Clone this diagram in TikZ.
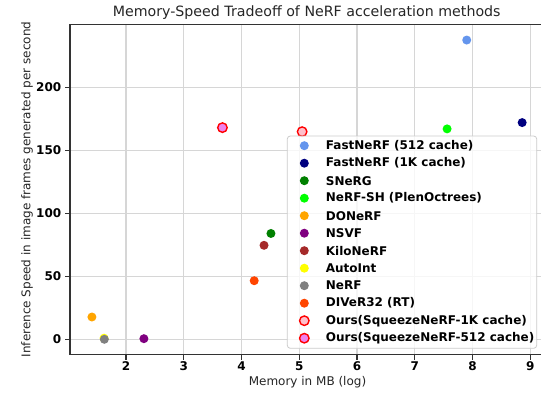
\documentclass[tikz,border=0pt]{standalone}
\usepackage{fontspec}
\setmainfont{DejaVu Sans}
\definecolor{cornflower}{HTML}{6495ED}
\definecolor{navyc}{HTML}{000080}
\definecolor{greenc}{HTML}{008000}
\definecolor{limec}{HTML}{00FF00}
\definecolor{orangec}{HTML}{FFA500}
\definecolor{purplec}{HTML}{800080}
\definecolor{brownc}{HTML}{A52A2A}
\definecolor{yellowc}{HTML}{FFFF00}
\definecolor{grayc}{HTML}{808080}
\definecolor{orangeredc}{HTML}{FF4500}
\definecolor{pinkc}{HTML}{FFC0CB}
\definecolor{violetc}{HTML}{EE82EE}
\definecolor{redc}{HTML}{FF0000}
\definecolor{gridc}{HTML}{D6D6D6}
\definecolor{framec}{HTML}{333333}
\definecolor{legedge}{HTML}{CCCCCC}
\definecolor{textc}{HTML}{262626}
\begin{document}
\begin{tikzpicture}[x=1pt,y=-1pt,
  mk/.style={circle,inner sep=0pt,minimum size=9pt},
  ours/.style={circle,inner sep=0pt,minimum size=9.5pt,draw=redc,line width=1.4pt},
  gridline/.style={draw=gridc,line width=1.1pt},
  tick/.style={draw=framec,line width=1.1pt},
  ticklab/.style={font=\fontsize{12}{14}\selectfont\bfseries,text=black,inner sep=0pt},
  leglab/.style={font=\fontsize{12}{14}\selectfont\bfseries,text=black,inner sep=0pt,anchor=west},
  axlab/.style={font=\fontsize{12}{14}\selectfont,text=textc,inner sep=0pt}]
\useasboundingbox (0,0) rectangle (541,394);
\fill[white] (0,0) rectangle (541,394);
\clip (0,0) rectangle (541,394);

% data coordinates: x = memory, y = frames per second
\begin{scope}[shift={(10.5,339.3)},x=57.75pt,y=1.26pt]
  % grid
  \foreach \gx in {2,...,9} \draw[gridline] (\gx,-12.2) -- (\gx,249.7);
  \foreach \gy in {0,50,...,200} \draw[gridline] (1.03,\gy) -- (9.3,\gy);
  % frame
  \draw[framec,line width=1.2pt] (9.3,249.7) -- (1.03,249.7) -- (1.03,-12.2) -- (9.3,-12.2);
  % ticks and tick labels
  \foreach \gx in {2,...,9} {
    \draw[tick] (\gx,-12.2) -- ++(0,-4.2);
    \node[ticklab,anchor=north] (xt\gx) at ([yshift=-7pt]\gx,-12.2) {\gx};
  }
  \foreach \gy in {0,50,...,200} {
    \draw[tick] (1.03,\gy) -- ++(-0.085,0);
    \node[ticklab,anchor=east] (yt\gy) at ([xshift=-8.5pt]1.03,\gy) {\gy};
  }
  % points
  \node[mk,fill=cornflower] (fastnerfA) at (7.90,237.5) {};
  \node[mk,fill=navyc] (fastnerfB) at (8.86,172) {};
  \node[mk,fill=greenc] (snerg) at (4.51,84) {};
  \node[mk,fill=limec] (nerfsh) at (7.56,167) {};
  \node[mk,fill=orangec] (donerf) at (1.41,17.7) {};
  \node[mk,fill=purplec] (nsvf) at (2.31,0.5) {};
  \node[mk,fill=brownc] (kilonerf) at (4.39,74.6) {};
  \node[mk,fill=yellowc] (autoint) at (1.62,0.9) {};
  \node[mk,fill=grayc] (nerf) at (1.625,0) {};
  \node[mk,fill=orangeredc] (diver) at (4.22,46.5) {};
  \node[ours,fill=pinkc] (oursA) at (5.05,164.8) {};
  \node[ours,fill=violetc] (oursB) at (3.67,168) {};
\end{scope}

% title and axis labels
\node[font=\fontsize{14.2}{16}\selectfont,text=textc,inner sep=0pt] (title) at (306.7,13) {Memory-Speed Tradeoff of NeRF acceleration methods};
\node[axlab] (xlab) at (307.5,382.5) {Memory in MB (log)};
\node[axlab,rotate=90] (ylab) at (27,189.5) {Inference Speed in image frames generated per second};

% legend
\draw[legedge,fill=white,fill opacity=0.8,line width=0.8pt,rounded corners=3pt] (287.3,136) rectangle (536.7,348.3);
\foreach \col/\lab [count=\i from 0] in {
  cornflower/FastNeRF (512 cache),
  navyc/FastNeRF (1K cache),
  greenc/SNeRG,
  limec/NeRF-SH (PlenOctrees),
  orangec/DONeRF,
  purplec/NSVF,
  brownc/KiloNeRF,
  yellowc/AutoInt,
  grayc/NeRF,
  orangeredc/DIVeR32 (RT)} {
  \node[mk,fill=\col] (lm\i) at (304.3,{145.7+17.5*\i}) {};
  \node[leglab] (lt\i) at (325.7,{145.7+17.5*\i}) {\lab};
}
\node[ours,fill=pinkc] (lm10) at (304.3,{145.7+17.5*10}) {};
\node[leglab] (lt10) at (325.7,{145.7+17.5*10}) {Ours(SqueezeNeRF-1K cache)};
\node[ours,fill=violetc] (lm11) at (304.3,{145.7+17.5*11}) {};
\node[leglab] (lt11) at (325.7,{145.7+17.5*11}) {Ours(SqueezeNeRF-512 cache)};
\end{tikzpicture}
\end{document}
